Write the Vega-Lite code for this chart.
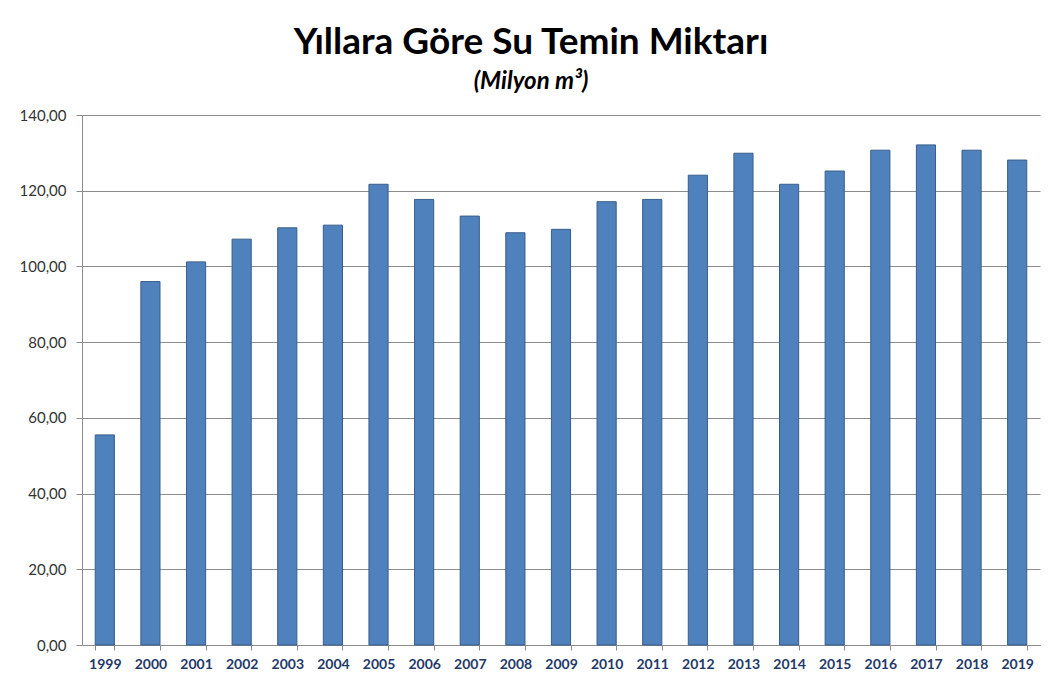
{
  "$schema": "https://vega.github.io/schema/vega-lite/v6.json",
  "width": 958,
  "height": 530,
  "autosize": "none",
  "padding": {"left": 82, "top": 115, "right": 8, "bottom": 43},
  "background": "white",
  "title": {
    "text": "Yıllara Göre Su Temin Miktarı",
    "subtitle": "(Milyon m³)",
    "anchor": "middle",
    "dx": -30,
    "offset": 13,
    "font": "Lato",
    "fontSize": 37,
    "fontWeight": "bold",
    "color": "#000000",
    "subtitleFont": "Lato",
    "subtitleFontSize": 24,
    "subtitleFontStyle": "italic",
    "subtitleFontWeight": "bold",
    "subtitleColor": "#000000",
    "subtitlePadding": 8
  },
  "data": {
    "values": [
      {"yil": "1999", "miktar": 55.5},
      {"yil": "2000", "miktar": 96.0},
      {"yil": "2001", "miktar": 101.2},
      {"yil": "2002", "miktar": 107.2},
      {"yil": "2003", "miktar": 110.2},
      {"yil": "2004", "miktar": 110.9},
      {"yil": "2005", "miktar": 121.7},
      {"yil": "2006", "miktar": 117.7},
      {"yil": "2007", "miktar": 113.3},
      {"yil": "2008", "miktar": 108.9},
      {"yil": "2009", "miktar": 109.8},
      {"yil": "2010", "miktar": 117.1},
      {"yil": "2011", "miktar": 117.7},
      {"yil": "2012", "miktar": 124.1},
      {"yil": "2013", "miktar": 129.9},
      {"yil": "2014", "miktar": 121.7},
      {"yil": "2015", "miktar": 125.2},
      {"yil": "2016", "miktar": 130.7},
      {"yil": "2017", "miktar": 132.1},
      {"yil": "2018", "miktar": 130.7},
      {"yil": "2019", "miktar": 128.1}
    ]
  },
  "mark": {"type": "bar", "fill": "#4F81BD", "stroke": "#385D8A", "strokeWidth": 1},
  "encoding": {
    "x": {
      "field": "yil",
      "type": "nominal",
      "sort": null,
      "scale": {"paddingInner": 0.58, "paddingOuter": 0.29},
      "axis": {
        "title": null,
        "labelAngle": 0,
        "labelFont": "Lato",
        "labelFontSize": 14,
        "labelFontWeight": "bold",
        "labelColor": "#1F3A68",
        "labelPadding": 7,
        "tickBand": "extent",
        "tickSize": 5,
        "tickColor": "#8c8c8c",
        "domainColor": "#8c8c8c",
        "grid": false
      }
    },
    "y": {
      "field": "miktar",
      "type": "quantitative",
      "scale": {"domain": [0, 140], "nice": false},
      "axis": {
        "title": null,
        "values": [0, 20, 40, 60, 80, 100, 120, 140],
        "labelExpr": "replace(format(datum.value, '.2f'), '.', ',')",
        "labelFont": "Lato",
        "labelFontSize": 15,
        "labelColor": "#333333",
        "labelPadding": 10,
        "tickSize": 6,
        "tickColor": "#8c8c8c",
        "domainColor": "#8c8c8c",
        "gridColor": "#8c8c8c",
        "gridWidth": 1.2,
        "gridOpacity": 1
      }
    }
  },
  "config": {
    "view": {"stroke": null}
  }
}
